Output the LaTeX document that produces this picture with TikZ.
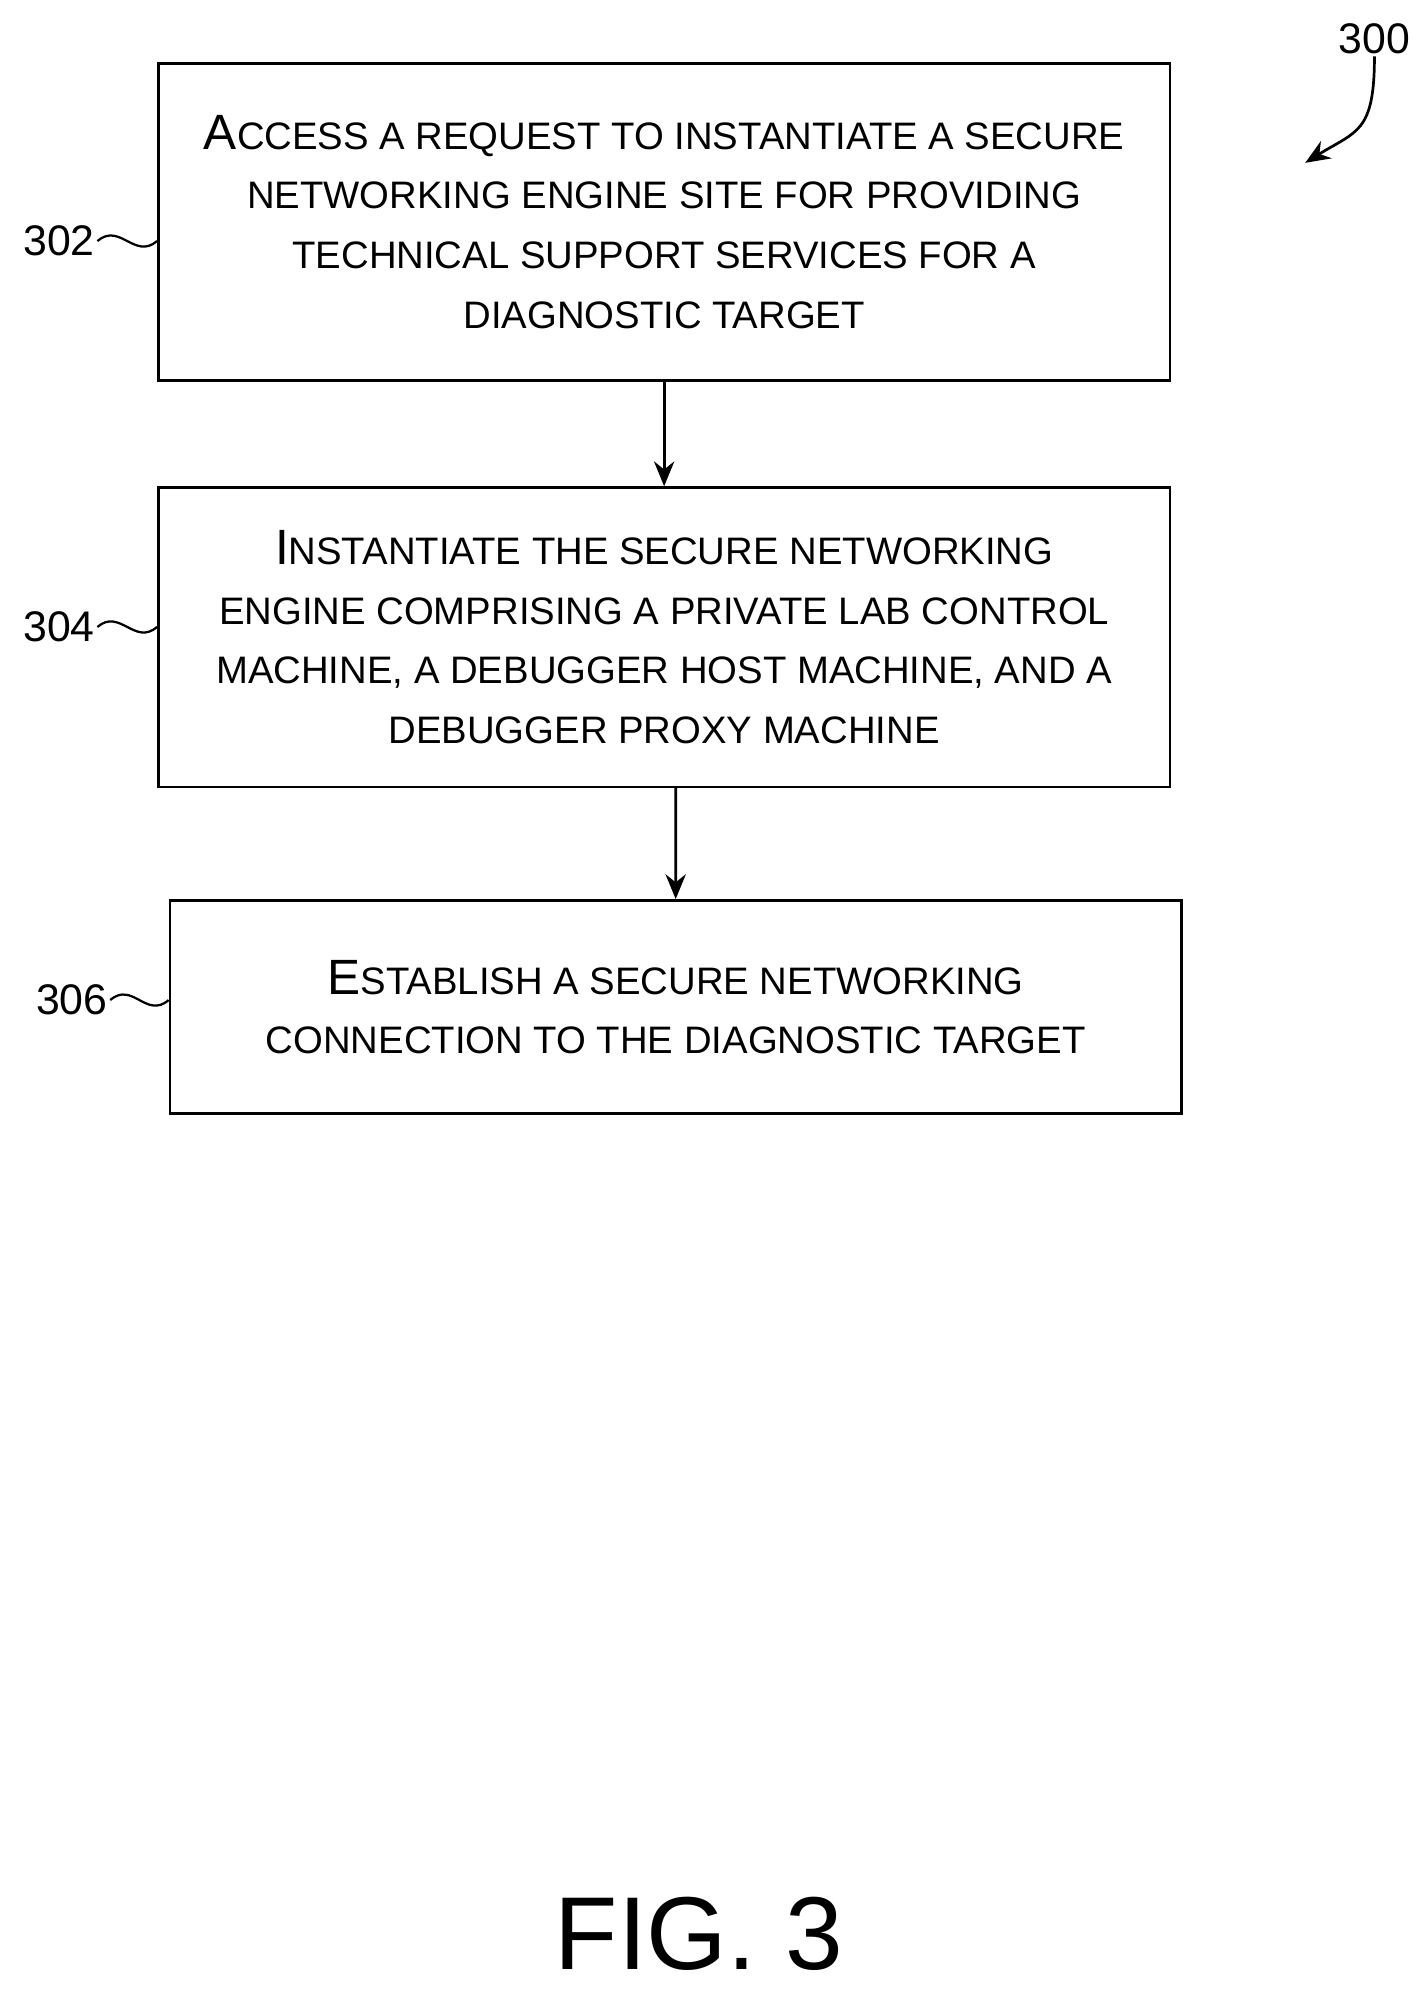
\documentclass[tikz,border=0pt]{standalone}
\usepackage{fontspec}
\setmainfont{Liberation Sans}
\usetikzlibrary{arrows.meta, positioning}
\newcommand{\bigc}[1]{{\fontsize{22}{26}\selectfont #1}}
\begin{document}
\begin{tikzpicture}[x=0.02cm,y=-0.02cm,>={Stealth[length=11pt,width=9pt]},
	flowbox/.style={draw, line width=1.2pt, minimum width=15.78cm, inner sep=0pt, align=center,
		font=\fontsize{17}{26.5}\selectfont},
	ref/.style={font=\fontsize{19}{22}\selectfont, inner sep=1pt}]
	\useasboundingbox (0,0) rectangle (1110,1556);
	\node[flowbox, minimum height=4.95cm] (s302) at (518,173) {\bigc{A}CCESS A REQUEST TO INSTANTIATE A SECURE\\NETWORKING ENGINE SITE FOR PROVIDING\\TECHNICAL SUPPORT SERVICES FOR A\\DIAGNOSTIC TARGET};
	\node[flowbox, minimum height=4.67cm] (s304) at (518,497) {\bigc{I}NSTANTIATE THE SECURE NETWORKING\\ENGINE COMPRISING A PRIVATE LAB CONTROL\\MACHINE, A DEBUGGER HOST MACHINE, AND A\\DEBUGGER PROXY MACHINE};
	\node[flowbox, minimum height=3.33cm] (s306) at (527,785.5) {\bigc{E}STABLISH A SECURE NETWORKING\\CONNECTION TO THE DIAGNOSTIC TARGET};
	\draw[->, line width=1.2pt] (s302.south) -- (s304.north);
	\draw[->, line width=1.2pt] ([xshift=0.18cm]s304.south) -- (s306.north);
	% reference labels
	\node[ref] (l302) at (46,188) {302};
	\node[ref] (l304) at (46,489) {304};
	\node[ref] (l306) at (56,780) {306};
	\foreach \l/\s in {l302/s302, l304/s304, l306/s306}
		\draw[line width=1pt] (\l.east) .. controls +(0.35cm,0.3cm) and +(-0.35cm,-0.3cm) .. (\s.west |- \l.east);
	\node[ref] (l300) at (1072,30) {300};
	\coordinate (a300) at (1018,127);
	\draw[->, line width=1.2pt] (l300.south) .. controls +(0,-1.2cm) and +(0.8cm,0.5cm) .. (a300);
	\node[font=\fontsize{46}{52}\selectfont] (fig) at (545,1508) {FIG. 3};
\end{tikzpicture}
\end{document}
